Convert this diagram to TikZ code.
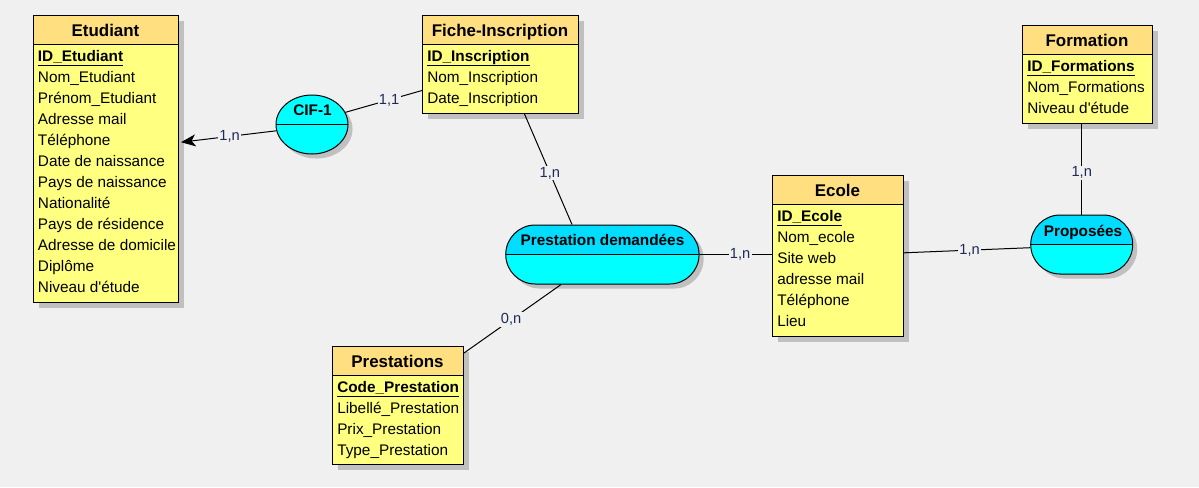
\documentclass[tikz,border=0pt]{standalone}
\usepackage{fontspec}
\setmainfont{Liberation Sans}
\usetikzlibrary{shapes.geometric,shapes.misc,shadows,arrows.meta}
\definecolor{bg}{HTML}{F0F0F0}
\definecolor{hdr}{HTML}{FFDF80}
\definecolor{body}{HTML}{FFFF80}
\definecolor{shd}{HTML}{C0C0C0}
\definecolor{reltop}{HTML}{00DDFF}
\definecolor{relbot}{HTML}{00FFFF}
\definecolor{cardc}{HTML}{1E2A5A}
\tikzset{
  ent/.style={draw=black, line width=0.75pt, fill=body, anchor=north west, inner sep=0pt,
    drop shadow={shadow xshift=3.75pt, shadow yshift=-3.75pt, fill=shd, opacity=1},
    path picture={
      \fill[hdr] (path picture bounding box.north west) rectangle ([yshift=-22.1pt]path picture bounding box.north east);
      \draw[line width=0.75pt] ([yshift=-22.1pt]path picture bounding box.north west) -- ([yshift=-22.1pt]path picture bounding box.north east);}},
  ttl/.style={font=\fontsize{12.7}{14}\selectfont\bfseries, anchor=base, inner sep=0pt},
  attr/.style={font=\fontsize{11.5}{13}\selectfont, anchor=base west, inner sep=0pt},
  key/.style={attr, font=\fontsize{11.5}{13}\selectfont\bfseries,
    append after command={([yshift=-2.6pt]\tikzlastnode.base west) edge[line width=0.75pt] ([yshift=-2.6pt]\tikzlastnode.base east)}},
  relbase/.style={draw=black, line width=0.75pt, fill=relbot, inner sep=0pt,
    drop shadow={shadow xshift=3.4pt, shadow yshift=-3.4pt, fill=shd, opacity=1}},
  rel/.style={relbase,
    path picture={
      \fill[reltop] (path picture bounding box.north west) rectangle (path picture bounding box.east);
      \draw[line width=0.75pt] (path picture bounding box.west) -- (path picture bounding box.east);}},
  relflat/.style={relbase,
    path picture={
      \draw[line width=0.75pt] (path picture bounding box.west) -- (path picture bounding box.east);}},
  rtitle/.style={font=\fontsize{11.5}{13}\selectfont\bfseries, anchor=base, inner sep=0pt},
  link/.style={draw=black, line width=0.75pt},
  card/.style={fill=bg, inner sep=1pt, text=cardc, font=\fontsize{11}{12}\selectfont},
}
\begin{document}
\begin{tikzpicture}[x=0.75pt,y=-0.75pt]
\fill[bg] (0,0) rectangle (1199,487);
\useasboundingbox (0,0) rectangle (1199,487);

% Etudiant
\node[ent, minimum width=108.75pt, minimum height=215.25pt] (etu) at (33,15) {};
\node[ttl] (etu-t) at (105.5,36.7) {Etudiant};
\node[key] (etu-k) at (37.7,61.7) {ID\_Etudiant};
\foreach \t [count=\i from 0] in {Nom\_Etudiant, Prénom\_Etudiant, Adresse mail, Téléphone, Date de naissance, Pays de naissance, Nationalité, Pays de résidence, Adresse de domicile, Diplôme, Niveau d\textquotesingle étude}
  \node[attr] (etu-a\i) at (37.7,{82.7+21*\i}) {\t};

% Fiche-Inscription
\node[ent, minimum width=117pt, minimum height=73.5pt] (fiche) at (422,15) {};
\node[ttl] (fiche-t) at (500,36.7) {Fiche-Inscription};
\node[key] (fiche-k) at (427,61.7) {ID\_Inscription};
\foreach \t [count=\i from 0] in {Nom\_Inscription, Date\_Inscription}
  \node[attr] (fiche-a\i) at (427,{82.7+21*\i}) {\t};

% Formation
\node[ent, minimum width=97.5pt, minimum height=73.5pt] (form) at (1022,25) {};
\node[ttl] (form-t) at (1087,46.7) {Formation};
\node[key] (form-k) at (1027,71.7) {ID\_Formations};
\foreach \t [count=\i from 0] in {Nom\_Formations, Niveau d\textquotesingle étude}
  \node[attr] (form-a\i) at (1027,{92.7+21*\i}) {\t};

% Ecole
\node[ent, minimum width=98.25pt, minimum height=120.75pt] (ecole) at (772,175) {};
\node[ttl] (ecole-t) at (837.5,196.7) {Ecole};
\node[key] (ecole-k) at (777,221.7) {ID\_Ecole};
\foreach \t [count=\i from 0] in {Nom\_ecole, Site web, adresse mail, Téléphone, Lieu}
  \node[attr] (ecole-a\i) at (777,{242.7+21*\i}) {\t};

% Prestations
\node[ent, minimum width=98.25pt, minimum height=88.5pt] (prest) at (332,346) {};
\node[ttl] (prest-t) at (397.5,367.7) {Prestations};
\node[key] (prest-k) at (337,392.7) {Code\_Prestation};
\foreach \t [count=\i from 0] in {Libellé\_Prestation, Prix\_Prestation, Type\_Prestation}
  \node[attr] (prest-a\i) at (337,{413.7+21*\i}) {\t};

% Relations
\node[relflat, ellipse, minimum width=54pt, minimum height=44.25pt] (cif) at (312,124.5) {};
\node[rtitle] (cif-t) at (312.5,115) {CIF-1};
\node[rel, rounded rectangle, minimum width=145pt, minimum height=44.25pt] (pd) at (602.4,254.5) {};
\node[rtitle] (pd-t) at (602.5,245.7) {Prestation demandées};
\node[rel, rounded rectangle, minimum width=76.5pt, minimum height=44.25pt] (prop) at (1081.7,244.5) {};
\node[rtitle] (prop-t) at (1083,236) {Proposées};

% Links
\draw[link, -{Stealth[length=11pt,width=9pt,inset=3pt]}] (cif.190) -- node[card, pos=0.49] (l1) {1,n} ([xshift=1.5pt,yshift=12.6pt]etu.east);
\draw[link] (cif.20) -- node[card, pos=0.57] (l2) {1,1} ([yshift=-19.5pt]fiche.west);
\draw[link] ([xshift=18pt]fiche.south) -- node[card, pos=0.535] (l3) {1,n} ([xshift=-22.8pt]pd.north);
\draw[link] (pd.east) -- node[card, pos=0.56] (l4) {1,n} (pd.east -| ecole.west);
\draw[link] ([xshift=-31pt]pd.south) -- node[card, pos=0.515] (l5) {0,n} ([yshift=-5.25pt]prest.north east);
\draw[link] ([yshift=2.4pt]ecole.east) -- node[card, pos=0.52] (l6) {1,n} ([yshift=-2.4pt]prop.west);
\draw[link] (prop.north |- form.south) -- node[card, pos=0.54] (l7) {1,n} (prop.north);
\end{tikzpicture}
\end{document}
